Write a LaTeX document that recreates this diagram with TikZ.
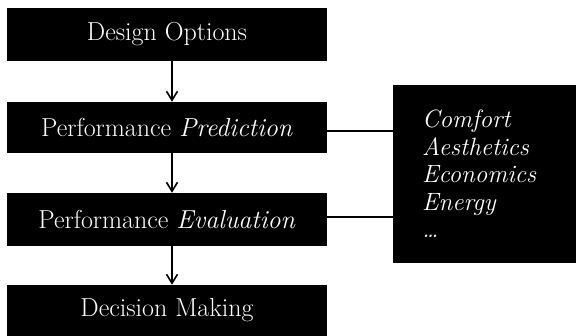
\documentclass[tikz,border=0pt]{standalone}
\usetikzlibrary{arrows.meta}
\begin{document}
\begin{tikzpicture}[x=1pt,y=1pt,
  stagebox/.style={fill=black,text=white,minimum width=320pt,inner sep=0pt,
    font=\fontsize{26}{30}\selectfont},
  listbox/.style={fill=black,text=white,minimum width=183pt,minimum height=178pt,
    inner xsep=29pt,text width=125pt,align=left,
    font=\fontsize{25}{27.5}\selectfont\itshape},
  flow/.style={line width=1.6pt,-{Straight Barb[length=9pt,width=11pt,line width=1.6pt]}},
  link/.style={line width=1.6pt}]
\useasboundingbox (0,0) rectangle (576,336);
\node[stagebox,minimum height=53pt] (d) at (167,301.5) {Design Options};
\node[stagebox,minimum height=51pt] (p) at (167,208.5) {Performance \textit{Prediction}};
\node[stagebox,minimum height=53pt] (e) at (167,116.5) {Performance \textit{Evaluation}};
\node[stagebox,minimum height=51pt] (m) at (167,25.5) {Decision Making};
\node[listbox] (r) at (484.5,162) {Comfort\\Aesthetics\\Economics\\Energy\\\dots};
\draw[flow] ([xshift=5pt]d.south) -- ([xshift=5pt]p.north);
\draw[flow] ([xshift=5pt]p.south) -- ([xshift=5pt]e.north);
\draw[flow] ([xshift=5pt]e.south) -- ([xshift=5pt]m.north);
\draw[link] ([yshift=-3.5pt]p.east) -- ([yshift=-3.5pt]p.east -| r.west);
\draw[link] ([yshift=2.5pt]e.east) -- ([yshift=2.5pt]e.east -| r.west);
\end{tikzpicture}
\end{document}
